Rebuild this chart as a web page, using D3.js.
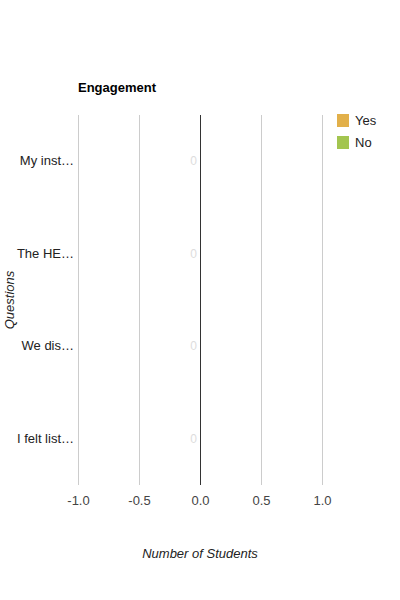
<!DOCTYPE html>
<html>
<head>
<meta charset="utf-8">
<script src="https://cdn.jsdelivr.net/npm/d3@7"></script>
<style>
  body { margin: 0; background: #fff; }
  svg { display: block; font-family: "Liberation Sans", Arial, sans-serif; }
</style>
</head>
<body>
<svg id="chart" width="400" height="600"></svg>
<script>
const categories = ["My inst…", "The HE…", "We dis…", "I felt list…"];
const seriesNames = ["Yes", "No"];
const yesValues = [0, 0, 0, 0];
const noValues = [0, 0, 0, 0];
const xTicks = [-1.0, -0.5, 0.0, 0.5, 1.0];
const colors = ["#e2b04a", "#a3c550"];

const svg = d3.select("#chart");
const margin = { left: 78, top: 115 };

const x = d3.scaleLinear().domain([-1, 1]).range([margin.left, margin.left + 244]);
const y = d3.scaleBand().domain(categories).range([margin.top, margin.top + 370]).paddingInner(0.4).paddingOuter(0.2);

// gridlines
svg.append("g").selectAll("line").data(xTicks.filter(t => t !== 0)).join("line")
  .attr("x1", d => Math.round(x(d)) + 0.5).attr("x2", d => Math.round(x(d)) + 0.5)
  .attr("y1", margin.top).attr("y2", margin.top + 370)
  .attr("stroke", "#cccccc").attr("stroke-width", 1);

// bars (stacked Yes/No)
const data = categories.map((c, i) => ({ c, yes: yesValues[i], no: noValues[i] }));
const stack = d3.stack().keys(["yes", "no"])(data);
svg.append("g").selectAll("g").data(stack).join("g")
  .attr("fill", (d, i) => colors[i])
  .selectAll("rect").data(d => d).join("rect")
  .attr("x", d => x(Math.min(d[0], d[1])))
  .attr("width", d => Math.abs(x(d[1]) - x(d[0])))
  .attr("y", d => y(d.data.c))
  .attr("height", y.bandwidth());

// annotations "0"
svg.append("g").selectAll("text").data(data).join("text")
  .attr("x", d => x(d.yes) - 3)
  .attr("y", d => y(d.c) + y.bandwidth() / 2 + 4)
  .attr("text-anchor", "end")
  .attr("font-size", 12)
  .attr("fill", "#dddddd")
  .text(d => d.yes);

// zero baseline
svg.append("line")
  .attr("x1", Math.round(x(0)) + 0.5).attr("x2", Math.round(x(0)) + 0.5)
  .attr("y1", margin.top).attr("y2", margin.top + 370)
  .attr("stroke", "#333333").attr("stroke-width", 1);

// x axis labels
const fmt = d3.format(".1f");
const xAxis = d3.axisBottom(x).tickValues(xTicks).tickFormat(d => fmt(d).replace("\u2212", "-")).tickSize(0).tickPadding(0);
const gx = svg.append("g").attr("transform", `translate(0,${margin.top + 370 + 20})`).call(xAxis);
gx.select(".domain").remove();
gx.selectAll("text").attr("font-size", 13).attr("fill", "#444444").attr("dy", "0")
  .attr("font-family", "Liberation Sans, Arial, sans-serif");

// y axis labels
const yAxis = d3.axisLeft(y).tickSize(0).tickPadding(0);
const gy = svg.append("g").attr("transform", `translate(${margin.left - 4},0)`).call(yAxis);
gy.select(".domain").remove();
gy.selectAll("text").attr("font-size", 13).attr("fill", "#222222")
  .attr("font-family", "Liberation Sans, Arial, sans-serif");

// title
svg.append("text").attr("x", 78).attr("y", 92)
  .attr("font-size", 13).attr("font-weight", "bold").attr("fill", "#000")
  .text("Engagement");

// axis titles
svg.append("text").attr("x", x(0)).attr("y", 558)
  .attr("text-anchor", "middle").attr("font-size", 13).attr("font-style", "italic").attr("fill", "#222")
  .text("Number of Students");
svg.append("text")
  .attr("transform", `translate(14,${margin.top + 185}) rotate(-90)`)
  .attr("text-anchor", "middle").attr("font-size", 13).attr("font-style", "italic").attr("fill", "#222")
  .text("Questions");

// legend
const lg = svg.append("g").selectAll("g").data(seriesNames).join("g")
  .attr("transform", (d, i) => `translate(337,${114 + i * 22})`);
lg.append("rect").attr("width", 12).attr("height", 13).attr("fill", (d, i) => colors[i]);
lg.append("text").attr("x", 18).attr("y", 11).attr("font-size", 13).attr("fill", "#222").text(d => d);
</script>
</body>
</html>
